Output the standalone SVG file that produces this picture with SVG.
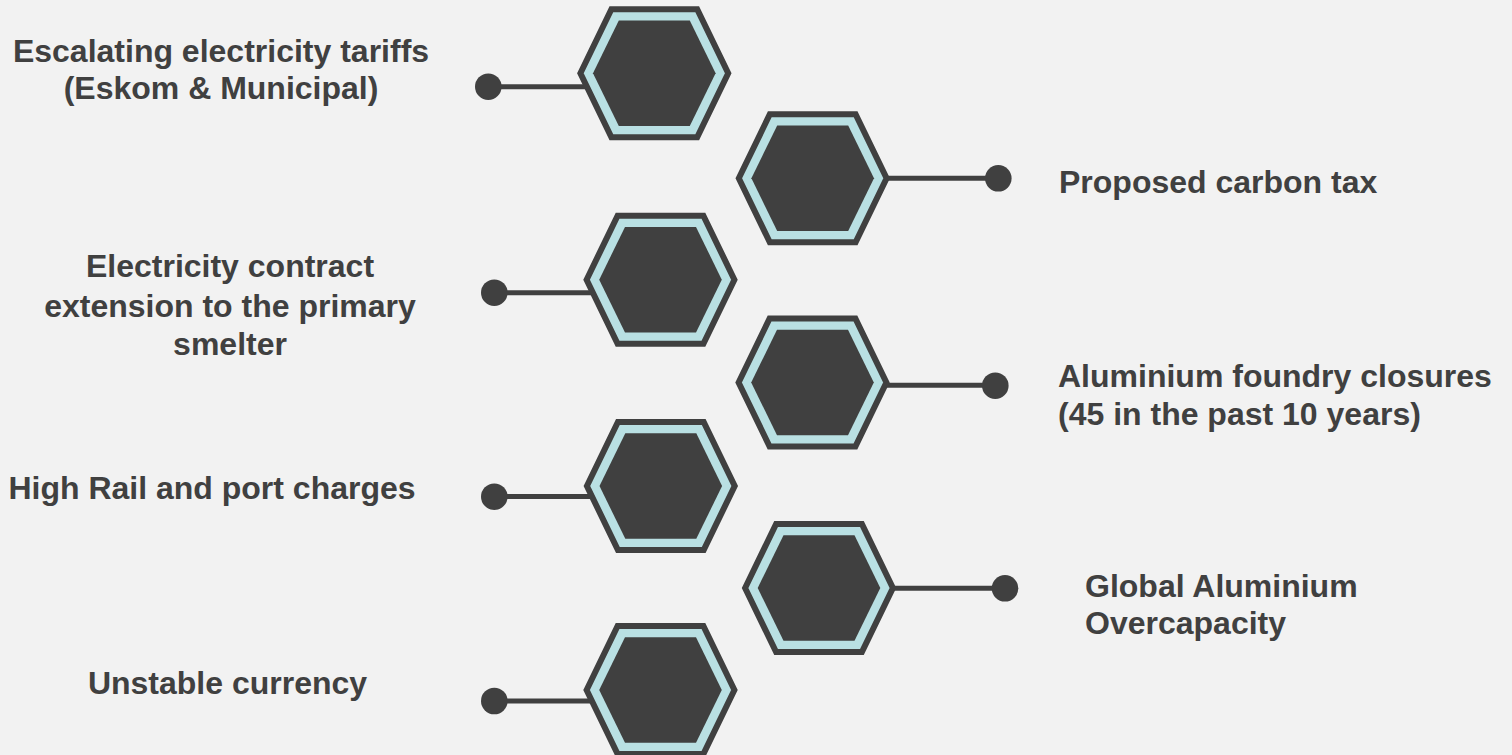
<svg xmlns="http://www.w3.org/2000/svg" width="1512" height="755" viewBox="0 0 1512 755">
<style>
.hexo{fill:#B9E0E3;stroke:#404040;stroke-width:6;stroke-linejoin:miter}
.hexi{fill:#404040}
.con line{stroke:#404040;stroke-width:5}
.con circle{fill:#404040}
text{font-family:"Liberation Sans",Arial,sans-serif;font-weight:bold;font-size:32px;fill:#404040}
.l{text-anchor:middle}
</style>
<defs>
<g id="hex">
<polygon class="hexo" points="-73.9,0 -42.9,-64 42.9,-64 73.9,0 42.9,64 -42.9,64"/>
<polygon class="hexi" points="-61.3,0 -35.5,-52.8 35.5,-52.8 61.3,0 35.5,52.8 -35.5,52.8"/>
</g>
</defs>
<rect width="1512" height="755" fill="#F2F2F2"/>
<g id="connectors" class="con">
<line x1="488.3" y1="86.7" x2="640" y2="86.7"/><circle cx="488.3" cy="86.7" r="13.3"/>
<line x1="800" y1="178.3" x2="998.3" y2="178.3"/><circle cx="998.3" cy="178.3" r="13.3"/>
<line x1="494.3" y1="292.7" x2="650" y2="292.7"/><circle cx="494.3" cy="292.7" r="13.3"/>
<line x1="800" y1="385.3" x2="995.3" y2="385.3"/><circle cx="995.3" cy="385.7" r="13.3"/>
<line x1="494.3" y1="496.5" x2="650" y2="496.5"/><circle cx="494.3" cy="496.7" r="13.3"/>
<line x1="810" y1="588.3" x2="1005" y2="588.3"/><circle cx="1005" cy="588.3" r="13.3"/>
<line x1="494.3" y1="701" x2="650" y2="701"/><circle cx="494.3" cy="701" r="13.3"/>
</g>
<g id="node1"><use href="#hex" x="654.3" y="73.3"/>
<text class="l" x="221" y="62">Escalating electricity tariffs</text>
<text class="l" x="221" y="99">(Eskom &amp; Municipal)</text></g>
<g id="node2"><use href="#hex" x="812.7" y="178.3"/>
<text x="1059" y="193">Proposed carbon tax</text></g>
<g id="node3"><use href="#hex" x="660.5" y="279.7"/>
<text class="l" x="230" y="277.3">Electricity contract</text>
<text class="l" x="230" y="316.7">extension to the primary</text>
<text class="l" x="230" y="355">smelter</text></g>
<g id="node4"><use href="#hex" x="812.5" y="382.5"/>
<text x="1058" y="387.3">Aluminium foundry closures</text>
<text x="1058" y="425">(45 in the past 10 years)</text></g>
<g id="node5"><use href="#hex" x="660.8" y="486"/>
<text class="l" x="212" y="499">High Rail and port charges</text></g>
<g id="node6"><use href="#hex" x="819" y="588"/>
<text x="1085" y="596.7">Global Aluminium</text>
<text x="1085" y="634">Overcapacity</text></g>
<g id="node7"><use href="#hex" x="660.5" y="690"/>
<text class="l" x="227.5" y="694">Unstable currency</text></g>
</svg>
